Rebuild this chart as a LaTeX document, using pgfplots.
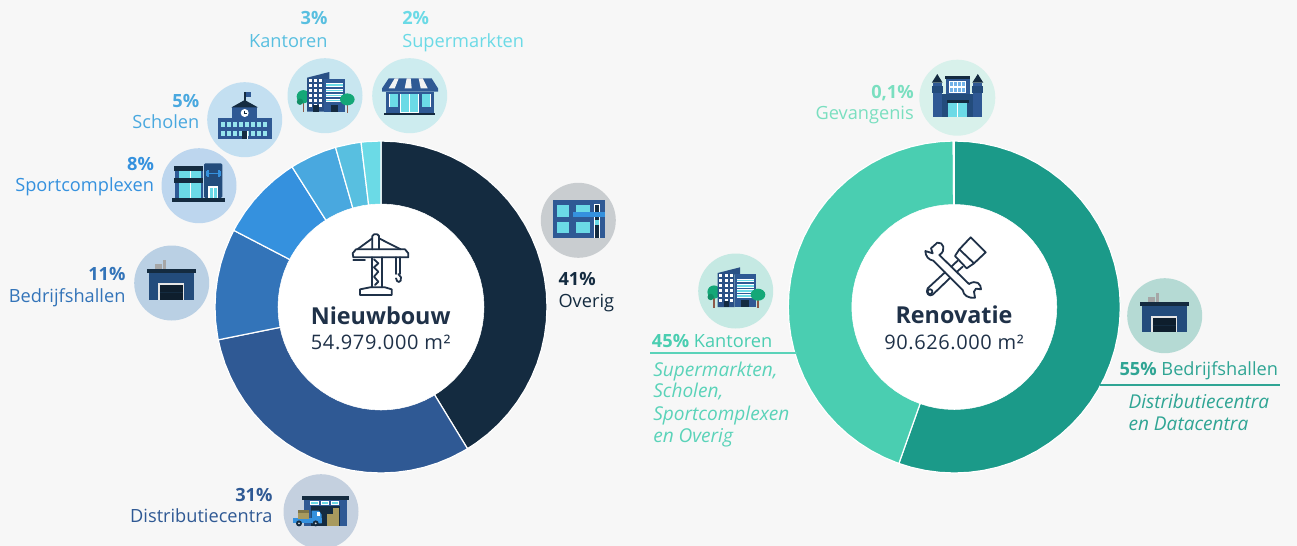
\documentclass[border=0pt]{standalone}
\usepackage{pgfplots}
\pgfplotsset{compat=1.18}
\usepgfplotslibrary{polar}
\usepackage{fontspec}
\setmainfont{Open Sans}
\definecolor{bg}{HTML}{F7F7F7}
\definecolor{cOv}{HTML}{142B40}
\definecolor{cDi}{HTML}{2F5994}
\definecolor{cBe}{HTML}{3374B9}
\definecolor{cSp}{HTML}{3591DE}
\definecolor{cSc}{HTML}{49A8DF}
\definecolor{cKa}{HTML}{58BFE0}
\definecolor{cSu}{HTML}{6BDAE6}
\definecolor{rD}{HTML}{1B9A89}
\definecolor{rL}{HTML}{4ACEB1}
\definecolor{rG}{HTML}{7ADFC0}
\definecolor{rT}{HTML}{2FA594}
\definecolor{rI}{HTML}{5AD3B9}
\definecolor{nav}{HTML}{234C7C}
\definecolor{ink}{HTML}{1F3148}
\definecolor{tree}{HTML}{14A777}
\definecolor{trunk}{HTML}{8E5A48}
\definecolor{tann}{HTML}{A89A5E}
\definecolor{wcy}{HTML}{6BDAE6}
\definecolor{d1}{HTML}{CDECEF}
\definecolor{d2}{HTML}{C8E6F0}
\definecolor{d3}{HTML}{C3DFF1}
\definecolor{d4}{HTML}{BDD6EE}
\definecolor{d5}{HTML}{BAD0E4}
\definecolor{d6}{HTML}{C4D0DF}
\definecolor{d7}{HTML}{C9CDD0}
\definecolor{d8}{HTML}{C5E9E3}
\definecolor{d9}{HTML}{D8F1EB}
\definecolor{d10}{HTML}{B5DAD4}
\newcommand\reg{\fontsize{13.65}{15}\selectfont}
\newcommand\itl{\fontsize{14.3}{15}\selectfont\itshape}
\newcommand\bigt{\fontsize{17.5}{20}\selectfont\bfseries}
\newcommand\midt{\fontsize{15}{16}\selectfont\addfontfeatures{LetterSpace=3}}
\newcommand\Rr[4]{\node[anchor=base east,inner sep=0,text=#1] at (#2,#3) {\reg #4};}
\newcommand\Lf[4]{\node[anchor=base west,inner sep=0,text=#1] at (#2,#3) {\reg #4};}
\newcommand\iconware[2]{\begin{scope}[shift={(#1,#2)}]
\fill[gray!70] (-16.7,-19) rectangle (-9.7,-14);
\fill[gray!70] (-8.7,-23) rectangle (-5.7,-14);
\fill[nav] (-22.3,-10) rectangle (22,16.7);
\fill[cOv] (-24.7,-14) rectangle (24.3,-10);
\fill[black!10] (-13.7,0.3) rectangle (12.7,16.7);
\fill[cOv!70!black] (-12,2) rectangle (11,16.7);
\draw[cOv,line width=.3pt] (-12,9) -- (11,9);
\end{scope}}
\newcommand\iconstore[2]{\begin{scope}[shift={(#1,#2)}]
\fill[cDi] (-23.7,-4) rectangle (24,17.7);
\fill[cOv] (-25.7,17.7) rectangle (25.3,19.3);
\fill[cDi] (-21,-17.3) -- (22,-17.3) -- (28.3,-7.3) -- (28.3,-4) -- (-27.7,-4) -- (-27.7,-7.3) -- cycle;
\fill[white!90!gray] (-15,-17.3) -- (-11,-17.3) -- (-15,-7.3) -- (-21,-7.3) -- cycle;
\fill[white!90!gray] (-3,-17.3) -- (1,-17.3) -- (2,-7.3) -- (-5,-7.3) -- cycle;
\fill[white!90!gray] (9,-17.3) -- (13,-17.3) -- (18,-7.3) -- (11,-7.3) -- cycle;
\fill[white] (-9.5,-2) rectangle (9.5,17);
\fill[wcy] (-8.7,-1.3) rectangle (-.5,16.7);
\fill[wcy] (.5,-1.3) rectangle (8.7,16.7);
\fill[white] (-20.7,-2) rectangle (-11.3,11.7);
\fill[wcy] (-20,-1.3) rectangle (-12,11);
\fill[white] (12,-2) rectangle (21.4,11.7);
\fill[wcy] (12.7,-1.3) rectangle (20.7,11);
\end{scope}}
\newcommand\iconoffice[2]{\begin{scope}[shift={(#1,#2)}]
\fill[trunk] (-22.5,1) rectangle (-20.7,16.5);
\fill[tree] (-21.7,1) circle (6.6);
\fill[tree!85!black] (-25,6) circle (3.2);
\fill[cDi!90!black] (-18,-18) -- (4.3,-23.7) -- (4.3,-16.7) -- (-1,-16.7) -- (-1,16) -- (-18,16) -- cycle;
\fill[cDi] (-1,-16.7) rectangle (20,16);
\foreach \x in {-15,-9.7,-4.7}{\foreach \y in {-15.3,-10.3,-5.3,-.3,4.7,9.7}{\fill[white] (\x-1.5,\y-1.3) rectangle (\x+1.5,\y+1.3);}}
\fill[cOv] (-11.7,9.7) rectangle (-6.3,16);
\foreach \y in {-12.3,-6.7,-1.7,3.3}{\fill[white] (1,\y) rectangle (18,\y+3.4);\fill[wcy] (1,\y+.8) rectangle (18,\y+2.2);}
\fill[cOv] (5.7,9) rectangle (13,16);
\fill[trunk] (21.5,3) rectangle (23.2,17);
\fill[tree] (22.3,3.7) ellipse (7.3 and 6);
\end{scope}}
\newcommand\iconschool[2]{\begin{scope}[shift={(#1,#2)}]
\fill[cDi] (-26.7,-1.7) rectangle (27.3,19);
\fill[cDi] (-12.7,-13) rectangle (12.7,-1.7);
\fill[cOv] (-13.3,-12.3) -- (0,-19.7) -- (13.3,-12.3) -- cycle;
\fill[cOv] (-.3,-28) rectangle (.9,-19);
\fill[cDi] (.9,-27.3) rectangle (6.3,-22.3);
\fill[white] (0,-6.7) circle (4);
\draw[cOv,line width=.4pt] (0,-9) -- (0,-6.7) -- (1.8,-6.7);
\foreach \x in {-23.3,-17.3,-11.3,-5.3,.7,6.7,12.7,18.7}{\fill[wcy!70!white] (\x,2) rectangle (\x+3.3,7.3);\fill[wcy!70!white] (\x,11) rectangle (\x+3.3,16.3);}
\fill[cDi] (-3,10) rectangle (3.5,19);
\fill[white] (2.7,11) rectangle (3.4,19);
\fill[cOv] (-2.7,11) rectangle (2.7,19);
\end{scope}}
\newcommand\iconsport[2]{\begin{scope}[shift={(#1,#2)}]
\fill[cDi] (-24,-15) rectangle (4.3,12.3);
\fill[wcy] (-19.7,-15) rectangle (2.3,-7.7);
\fill[wcy] (-19.7,-2.7) rectangle (2.3,12.3);
\fill[white] (-9,-15) rectangle (-8,-7.7);\fill[white] (-9,-2.7) rectangle (-8,12.3);
\fill[cOv] (-25,-19.3) rectangle (4.3,-15);
\fill[cOv] (-25,-7.7) rectangle (4.3,-2.7);
\fill[nav,rounded corners=1] (5,-22.3) rectangle (23.3,12.3);
\fill[cSp] (8,-13) rectangle (21,-11.5);
\fill[cSp] (8,-16) rectangle (10,-8.5);\fill[cSp] (19,-16) rectangle (21,-8.5);
\fill[cSp] (6.6,-14.5) rectangle (7.6,-10);\fill[cSp] (21.4,-14.5) rectangle (22.4,-10);
\fill[white] (9,.3) rectangle (19,12.3);
\fill[wcy] (10.5,2) rectangle (13.6,12.3);\fill[wcy] (14.6,2) rectangle (17.7,12.3);
\fill[cOv] (-27,12.3) rectangle (26,16);
\end{scope}}
\newcommand\iconother[2]{\begin{scope}[shift={(#1,#2)}]
\fill[cDi] (-25.7,-20.3) rectangle (26.3,18);
\fill[wcy] (-21.7,-15.7) rectangle (-9.7,-3.3);
\fill[wcy] (-21.7,1.3) rectangle (-9.7,12.3);
\fill[wcy] (-2,-15.7) rectangle (11.7,-8.7);
\fill[wcy] (-2,1.3) rectangle (11.7,12.3);
\fill[white] (16,-16) rectangle (22,18);
\fill[cOv] (17,-15) rectangle (21,18);
\fill[wcy] (17,0) rectangle (21,5);
\fill[cSp] (-5.3,-8.7) rectangle (26.3,-3);
\end{scope}}
\newcommand\icondist[2]{\begin{scope}[shift={(#1,#2)}]
\fill[cDi] (-16.7,-11.7) rectangle (26,14.3);
\fill[cOv] (-19,-16) rectangle (28,-11.7);
\foreach \a/\b in {-10.7/-2,-.3/8,9.7/18}{\fill[white] (\a,-10.7) rectangle (\b,-6.7);\fill[wcy] (\a+1,-10) rectangle (\b-1,-7.4);}
\fill[cOv] (-10,-5.7) rectangle (19,14.3);
\fill[tann] (5.7,2.3) rectangle (18.3,14.3);
\fill[tann] (11.7,-3.7) rectangle (18.3,2.3);
\fill[cSp] (-28.3,6.7) rectangle (.7,11.7);
\fill[cSp] (-9.3,-1) -- (-2,-1) -- (.7,3) -- (.7,11.7) -- (-9.3,11.7) -- cycle;
\fill[white] (-4,.5) rectangle (-.8,4);
\fill[tann] (-23,-2) rectangle (-11.7,7.3);
\fill[tann!75!black] (-23,-2) rectangle (-11.7,.8);
\fill[cOv] (-22,11.7) circle (3);\fill[white!70!gray] (-22,11.7) circle (1);
\fill[cOv] (-5.3,11.7) circle (3);\fill[white!70!gray] (-5.3,11.7) circle (1);
\end{scope}}
\newcommand\iconprison[2]{\begin{scope}[shift={(#1,#2)}]
\fill[nav] (-16,-3.7) rectangle (16,19);
\fill[cDi] (-24.3,-15) rectangle (-15.7,19);
\fill[cDi] (16,-15) rectangle (24.7,19);
\fill[nav] (-25.5,-11.7) rectangle (-14.7,-5);
\fill[nav] (15,-11.7) rectangle (26,-5);
\fill[cOv] (-25.5,-15) -- (-20,-23.7) -- (-14.7,-15) -- cycle;
\fill[cOv] (15,-15) -- (20.5,-23.7) -- (26,-15) -- cycle;
\fill[cDi] (-11.7,-19) rectangle (12.7,-4);
\fill[cOv] (-12.3,-21.7) rectangle (12.7,-18.5);
\fill[white] (-8.3,-16.7) rectangle (8.7,-5);
\foreach \x in {-7.7,-3.7,.3,4.3}{\fill[cSp!70!white] (\x,-16) rectangle (\x+3,-11.6);\fill[cSp!70!white] (\x,-10) rectangle (\x+3,-5.6);}
\fill[cOv] (-10,2.3) rectangle (11.7,5);
\fill[wcy] (-9,5) rectangle (10,19);
\fill[white] (.1,5) rectangle (.8,19);
\end{scope}}
\begin{document}
\begin{tikzpicture}[x=0.75pt,y=-0.75pt]
\useasboundingbox (0,0) rectangle (1297,546);
\fill[bg] (0,0) rectangle (1297,546);
% ---------- left donut
\begin{polaraxis}[at={(381,-307)},anchor=center,hide axis,scale only axis,width=249pt,height=249pt,xmin=0,xmax=360,ymin=0,ymax=166,clip=false]
\addplot[fill=cOv,draw=white,line width=.9pt] coordinates {(0,0) (90,166) (85,166) (80,166) (75,166) (70,166) (65,166) (60,166) (55,166) (50,166) (45,166) (40,166) (35,166) (30,166) (25,166) (20,166) (15,166) (10,166) (5,166) (0,166) (-5,166) (-10,166) (-15,166) (-20,166) (-25,166) (-30,166) (-35,166) (-40,166) (-45,166) (-50,166) (-55,166) (-58.6,166)} -- cycle;
\addplot[fill=cDi,draw=white,line width=.9pt] coordinates {(0,0) (-58.6,166) (-60,166) (-65,166) (-70,166) (-75,166) (-80,166) (-85,166) (-90,166) (-95,166) (-100,166) (-105,166) (-110,166) (-115,166) (-120,166) (-125,166) (-130,166) (-135,166) (-140,166) (-145,166) (-150,166) (-155,166) (-160,166) (-165,166) (-168.6,166)} -- cycle;
\addplot[fill=cBe,draw=white,line width=.9pt] coordinates {(0,0) (-168.6,166) (-170,166) (-175,166) (-180,166) (-185,166) (-190,166) (-195,166) (-200,166) (-205,166) (-207.5,166)} -- cycle;
\addplot[fill=cSp,draw=white,line width=.9pt] coordinates {(0,0) (-207.5,166) (-210,166) (-215,166) (-220,166) (-225,166) (-230,166) (-235,166) (-237.6,166)} -- cycle;
\addplot[fill=cSc,draw=white,line width=.9pt] coordinates {(0,0) (-237.6,166) (-240,166) (-245,166) (-250,166) (-254.1,166)} -- cycle;
\addplot[fill=cKa,draw=white,line width=.9pt] coordinates {(0,0) (-254.1,166) (-255,166) (-260,166) (-263.1,166)} -- cycle;
\addplot[fill=cSu,draw=white,line width=.9pt] coordinates {(0,0) (-263.1,166) (-265,166) (-270,166)} -- cycle;
\addplot[fill=white,draw=white] coordinates {(0,103) (5,103) (10,103) (15,103) (20,103) (25,103) (30,103) (35,103) (40,103) (45,103) (50,103) (55,103) (60,103) (65,103) (70,103) (75,103) (80,103) (85,103) (90,103) (95,103) (100,103) (105,103) (110,103) (115,103) (120,103) (125,103) (130,103) (135,103) (140,103) (145,103) (150,103) (155,103) (160,103) (165,103) (170,103) (175,103) (180,103) (185,103) (190,103) (195,103) (200,103) (205,103) (210,103) (215,103) (220,103) (225,103) (230,103) (235,103) (240,103) (245,103) (250,103) (255,103) (260,103) (265,103) (270,103) (275,103) (280,103) (285,103) (290,103) (295,103) (300,103) (305,103) (310,103) (315,103) (320,103) (325,103) (330,103) (335,103) (340,103) (345,103) (350,103) (355,103)} -- cycle;
\end{polaraxis}
% ---------- right donut
\begin{polaraxis}[at={(954.3,-307)},anchor=center,hide axis,scale only axis,width=249pt,height=249pt,xmin=0,xmax=360,ymin=0,ymax=166,clip=false]
\addplot[fill=rD,draw=white,line width=.9pt] coordinates {(0,0) (90,166) (85,166) (80,166) (75,166) (70,166) (65,166) (60,166) (55,166) (50,166) (45,166) (40,166) (35,166) (30,166) (25,166) (20,166) (15,166) (10,166) (5,166) (0,166) (-5,166) (-10,166) (-15,166) (-20,166) (-25,166) (-30,166) (-35,166) (-40,166) (-45,166) (-50,166) (-55,166) (-60,166) (-65,166) (-70,166) (-75,166) (-80,166) (-85,166) (-90,166) (-95,166) (-100,166) (-105,166) (-109.5,166)} -- cycle;
\addplot[fill=rL,draw=white,line width=.9pt] coordinates {(0,0) (-109.5,166) (-110,166) (-115,166) (-120,166) (-125,166) (-130,166) (-135,166) (-140,166) (-145,166) (-150,166) (-155,166) (-160,166) (-165,166) (-170,166) (-175,166) (-180,166) (-185,166) (-190,166) (-195,166) (-200,166) (-205,166) (-210,166) (-215,166) (-220,166) (-225,166) (-230,166) (-235,166) (-240,166) (-245,166) (-250,166) (-255,166) (-260,166) (-265,166) (-269.64,166)} -- cycle;
\addplot[fill=rG,draw=white,line width=.9pt] coordinates {(0,0) (-269.64,166) (-270,166)} -- cycle;
\addplot[fill=white,draw=white] coordinates {(0,102.5) (5,102.5) (10,102.5) (15,102.5) (20,102.5) (25,102.5) (30,102.5) (35,102.5) (40,102.5) (45,102.5) (50,102.5) (55,102.5) (60,102.5) (65,102.5) (70,102.5) (75,102.5) (80,102.5) (85,102.5) (90,102.5) (95,102.5) (100,102.5) (105,102.5) (110,102.5) (115,102.5) (120,102.5) (125,102.5) (130,102.5) (135,102.5) (140,102.5) (145,102.5) (150,102.5) (155,102.5) (160,102.5) (165,102.5) (170,102.5) (175,102.5) (180,102.5) (185,102.5) (190,102.5) (195,102.5) (200,102.5) (205,102.5) (210,102.5) (215,102.5) (220,102.5) (225,102.5) (230,102.5) (235,102.5) (240,102.5) (245,102.5) (250,102.5) (255,102.5) (260,102.5) (265,102.5) (270,102.5) (275,102.5) (280,102.5) (285,102.5) (290,102.5) (295,102.5) (300,102.5) (305,102.5) (310,102.5) (315,102.5) (320,102.5) (325,102.5) (330,102.5) (335,102.5) (340,102.5) (345,102.5) (350,102.5) (355,102.5)} -- cycle;
\end{polaraxis}
% ---------- icon discs
\fill[d1] (409.7,95.7) circle (37.5);
\fill[d2] (325,95.7) circle (37.5);
\fill[d3] (244.7,119.7) circle (37.5);
\fill[d4] (199,185.7) circle (37.5);
\fill[d5] (171.7,283) circle (37.5);
\fill[d7] (578.3,220.3) circle (37.5);
\fill[d6] (321,511.7) circle (37.5);
\fill[d8] (735.7,291) circle (37.5);
\fill[d9] (957.3,97.7) circle (38);
\fill[d10] (1164.7,315.7) circle (37.5);
\iconstore{409.7}{95.7}
\iconoffice{325}{95.7}
\iconschool{244.7}{119.7}
\iconsport{199}{185.7}
\iconware{171.7}{283}
\iconother{578.3}{220.3}
\icondist{321}{511.7}
\iconoffice{735.7}{291}
\iconprison{957.3}{97.7}
\iconware{1164.7}{315.7}
% ---------- crane (coordinates in 3x crop pixels)
\begin{scope}[shift={(270,170)},x=0.25pt,y=-0.25pt,draw=ink,line width=1.35pt,line join=round,line cap=round]
\draw (307,238) -- (307,198) -- (312,193) -- (322,193) -- (327,198) -- (327,238);
\draw (307,262) -- (307,352); \draw (337,262) -- (337,352);
\draw (270,375) -- (270,358) -- (300,352) -- (345,352) -- (365,358) -- (365,375) -- cycle;
\draw (250,262) -- (248,250) -- (258,238) -- (405,238) -- (415,250) -- (415,262) -- cycle;
\draw (307,205) -- (262,238); \draw (327,205) -- (392,238);
\draw (250,270) -- (285,270);
\draw (378,262) -- (378,312); \draw (390,262) -- (390,312);
\draw (378,325) .. controls (380,340) and (395,340) .. (393,322) -- (385,312);
\draw (312,268) -- (325,280) -- (312,292) -- (325,305) -- (312,320) -- (325,335) -- (315,345);
\end{scope}
% ---------- wrench and brush (coordinates in 3x crop pixels)
\begin{scope}[shift={(850,220)},x=0.25pt,y=-0.25pt,draw=ink,line width=1.35pt,line join=round,line cap=round]
\draw (362,52) -- (407,97) -- (372,130) -- (328,88) -- cycle;
\draw (328,88) -- (315,108) -- (350,145) -- (372,130);
\draw (233,205) -- (285,157) (304,140) -- (323,122);
\draw (338,140) -- (320,156) (301,173) -- (248,224) .. controls (238,232) and (225,218) .. (233,205);
\draw (240,215) circle (1.8pt);
\draw (262,68) -- (243,85) -- (248,100) -- (226,93) .. controls (226,108) and (236,120) .. (250,122) -- (338,210) .. controls (340,226) and (356,236) .. (375,233) -- (372,215) -- (378,206) -- (393,208) .. controls (394,192) and (378,178) .. (357,192) -- (268,105) .. controls (290,92) and (280,64) .. (262,68) -- cycle;
\end{scope}
% ---------- centre texts
\node[anchor=base,inner sep=0,text=ink] at (380.7,324) {\bigt Nieuwbouw};
\node[anchor=base,inner sep=0,text=ink] at (380.7,349) {\midt 54.979.000 m²};
\node[anchor=base,inner sep=0,text=ink] at (954,323.3) {\bigt Renovatie};
\node[anchor=base,inner sep=0,text=ink] at (954,349) {\midt 90.626.000 m²};
% ---------- labels
\Rr{cKa}{327.7}{25}{\textbf{3\%}}
\Rr{cKa}{327.7}{47}{Kantoren}
\Lf{cSu}{402}{25}{\textbf{2\%}}
\Lf{cSu}{402}{47}{Supermarkten}
\Rr{cSc}{199.5}{107.3}{\textbf{5\%}}
\Rr{cSc}{199.5}{128.7}{Scholen}
\Rr{cSp}{154.3}{170}{\textbf{8\%}}
\Rr{cSp}{154.3}{191.7}{Sportcomplexen}
\Rr{cBe}{125.7}{280.7}{\textbf{11\%}}
\Rr{cBe}{125.7}{302.7}{Bedrijfshallen}
\Rr{cDi}{272.7}{501}{\textbf{31\%}}
\Rr{cDi}{272.7}{522.7}{Distributiecentra}
\Lf{cOv}{558.3}{285}{\textbf{41\%}}
\Lf{cOv}{558.3}{307.3}{Overig}
\Rr{rG}{914}{98.3}{\textbf{0,1\%}}
\Rr{rG}{914}{119.3}{Gevangenis}
\Lf{rL}{651.7}{347.3}{\textbf{45\%} Kantoren}
\draw[rI,line width=1.1pt] (650,353) -- (797,353);
\Lf{rI}{653}{376}{\itl Supermarkten,}
\Lf{rI}{653}{397.7}{\itl Scholen,}
\Lf{rI}{653}{420.3}{\itl Sportcomplexen}
\Lf{rI}{653}{442.7}{\itl en Overig}
\Lf{rT}{1119.3}{375}{\textbf{55\%} Bedrijfshallen}
\draw[rT,line width=1.1pt] (1100,385) -- (1280,385);
\Lf{rT}{1128.3}{408.3}{\itl Distributiecentra}
\Lf{rT}{1128.3}{430}{\itl en Datacentra}
\end{tikzpicture}
\end{document}
